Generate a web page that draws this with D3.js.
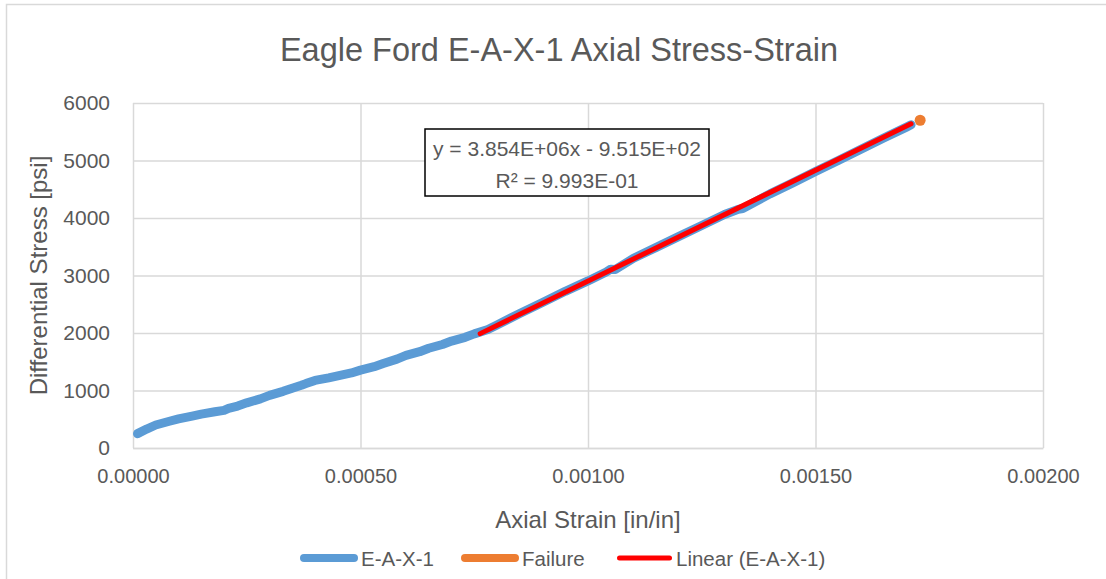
<!DOCTYPE html>
<html>
<head>
<meta charset="utf-8">
<script src="https://cdn.jsdelivr.net/npm/d3@7"></script>
<style>
  body { margin: 0; background: #fff; }
  text { font-family: "Liberation Sans", Arial, sans-serif; fill: #595959; }
</style>
</head>
<body>
<div id="chart"></div>
<script>
var svgWidth = 1106;
var svgHeight = 579;

var margin = { top: 103, right: 63, bottom: 131, left: 133 };
var width = svgWidth - margin.left - margin.right;
var height = svgHeight - margin.top - margin.bottom;

var strain = [0.00001, 0.00003, 0.00005, 0.00008, 0.00010, 0.00013, 0.00015, 0.00018, 0.00020, 0.00021,
  0.00023, 0.00025, 0.00028, 0.00030, 0.00033, 0.00035, 0.00037, 0.00038, 0.00040, 0.00043,
  0.00045, 0.00048, 0.00050, 0.00053, 0.00055, 0.00058, 0.00060, 0.00063, 0.00065, 0.00068,
  0.00070, 0.00073, 0.00075, 0.00078, 0.00080, 0.00085, 0.00090, 0.00095, 0.00100, 0.00104,
  0.00105, 0.00106, 0.00110, 0.00115, 0.00120, 0.00125, 0.00130, 0.00133, 0.00134, 0.00140,
  0.00145, 0.00150, 0.00155, 0.00160, 0.00165, 0.00170, 0.00171];
var stress = [250, 330, 400, 465, 505, 555, 590, 630, 655, 690,
  730, 785, 855, 915, 985, 1040, 1090, 1120, 1175, 1220,
  1255, 1305, 1355, 1415, 1470, 1545, 1610, 1675, 1735, 1800,
  1860, 1925, 1985, 2060, 2140, 2340, 2530, 2725, 2905, 3060,
  3110, 3105, 3300, 3490, 3680, 3870, 4060, 4150, 4165, 4420,
  4610, 4810, 5000, 5195, 5390, 5580, 5620];

var failureStrain = [0.00173];
var failureStress = [5700];

// linear trend line
var slope = 3.854e6;
var intercept = -951.5;
var trendStrain = [0.000763, 0.00171];

var xTicks = [0, 0.0005, 0.001, 0.0015, 0.002];
var yTicks = [0, 1000, 2000, 3000, 4000, 5000, 6000];

var legendNames = ["E-A-X-1", "Failure", "Linear (E-A-X-1)"];
var legendColors = ["#5b9bd5", "#ed7d31", "#ff0000"];

var svg = d3.select("#chart")
  .append("svg")
  .attr("width", svgWidth)
  .attr("height", svgHeight);

svg.append("rect")
  .attr("x", 6.5).attr("y", 4.5)
  .attr("width", 1200).attr("height", 700)
  .attr("fill", "none")
  .attr("stroke", "#d9d9d9")
  .attr("stroke-width", 1.5);

var chartGroup = svg.append("g")
  .attr("transform", `translate(${margin.left}, ${margin.top})`);

var x = d3.scaleLinear().domain([0, 0.002]).range([0, width]);
var y = d3.scaleLinear().domain([0, 6000]).range([height, 0]);

// gridlines
chartGroup.append("g")
  .selectAll("line.h")
  .data(yTicks)
  .enter()
  .append("line")
  .attr("x1", 0).attr("x2", width)
  .attr("y1", d => y(d) + 0.5).attr("y2", d => y(d) + 0.5)
  .attr("stroke", "#d9d9d9").attr("stroke-width", 1.5);

chartGroup.append("g")
  .selectAll("line.v")
  .data(xTicks)
  .enter()
  .append("line")
  .attr("x1", d => x(d) + 0.5).attr("x2", d => x(d) + 0.5)
  .attr("y1", 0).attr("y2", height)
  .attr("stroke", "#d9d9d9").attr("stroke-width", 1.5);

// axes
var xAxis = chartGroup.append("g")
  .attr("transform", `translate(0, ${height})`)
  .call(d3.axisBottom(x).tickValues(xTicks).tickSize(0).tickPadding(21).tickFormat(d3.format(".5f")));
xAxis.select(".domain").attr("stroke", "#d9d9d9").attr("stroke-width", 1.5);
xAxis.selectAll("text").style("font-size", "20px").attr("fill", "#595959");

var yAxis = chartGroup.append("g")
  .call(d3.axisLeft(y).tickValues(yTicks).tickSize(0).tickPadding(23).tickFormat(d3.format("d")));
yAxis.select(".domain").remove();
yAxis.selectAll("text").style("font-size", "21px").attr("fill", "#595959");

// data line
var pts = strain.map((s, i) => [s, stress[i]]);
var line = d3.line().x(d => x(d[0])).y(d => y(d[1]));

chartGroup.append("path")
  .datum(pts)
  .attr("d", line)
  .attr("fill", "none")
  .attr("stroke", legendColors[0])
  .attr("stroke-width", 9)
  .attr("stroke-linecap", "round")
  .attr("stroke-linejoin", "round");

chartGroup.append("path")
  .datum(trendStrain.map(s => [s, slope * s + intercept]))
  .attr("d", line)
  .attr("fill", "none")
  .attr("stroke", legendColors[2])
  .attr("stroke-width", 5)
  .attr("stroke-linecap", "round");

chartGroup.selectAll("circle.fail")
  .data(failureStrain)
  .enter()
  .append("circle")
  .attr("cx", d => x(d))
  .attr("cy", (d, i) => y(failureStress[i]))
  .attr("r", 5.5)
  .attr("fill", legendColors[1]);

// equation box
var eq = svg.append("g").attr("transform", "translate(425, 129)");
eq.append("rect")
  .attr("x", 0).attr("y", 0)
  .attr("width", 284).attr("height", 67)
  .attr("fill", "#fff")
  .attr("stroke", "#000")
  .attr("stroke-width", 1.5);
eq.append("text")
  .attr("x", 142).attr("y", 26.5)
  .attr("text-anchor", "middle")
  .style("font-size", "21px")
  .text("y = 3.854E+06x - 9.515E+02");
eq.append("text")
  .attr("x", 142).attr("y", 58.5)
  .attr("text-anchor", "middle")
  .style("font-size", "21px")
  .text("R² = 9.993E-01");

// title and axis labels
svg.append("text")
  .attr("x", 559).attr("y", 61)
  .attr("text-anchor", "middle")
  .style("font-size", "32.5px")
  .text("Eagle Ford E-A-X-1 Axial Stress-Strain");

svg.append("text")
  .attr("x", margin.left + width / 2).attr("y", 528)
  .attr("text-anchor", "middle")
  .style("font-size", "24px")
  .text("Axial Strain [in/in]");

svg.append("text")
  .attr("transform", `translate(47, ${margin.top + height / 2}) rotate(-90)`)
  .attr("text-anchor", "middle")
  .style("font-size", "24px")
  .text("Differential Stress [psi]");

// legend
var legendX = [300, 461, 617];
var legend = svg.selectAll("g.legend")
  .data(legendNames)
  .enter()
  .append("g")
  .attr("transform", (d, i) => `translate(${legendX[i]}, 558)`);

legend.append("line")
  .attr("x1", (d, i) => i === 2 ? 2.5 : 4).attr("x2", (d, i) => i === 2 ? 52.5 : 54)
  .attr("y1", 0).attr("y2", 0)
  .attr("stroke", (d, i) => legendColors[i])
  .attr("stroke-width", (d, i) => i === 2 ? 5 : 8)
  .attr("stroke-linecap", "round");

legend.append("text")
  .attr("x", (d, i) => i === 2 ? 59 : 61).attr("y", 7.5)
  .style("font-size", "20.5px")
  .text(d => d);
</script>
</body>
</html>
